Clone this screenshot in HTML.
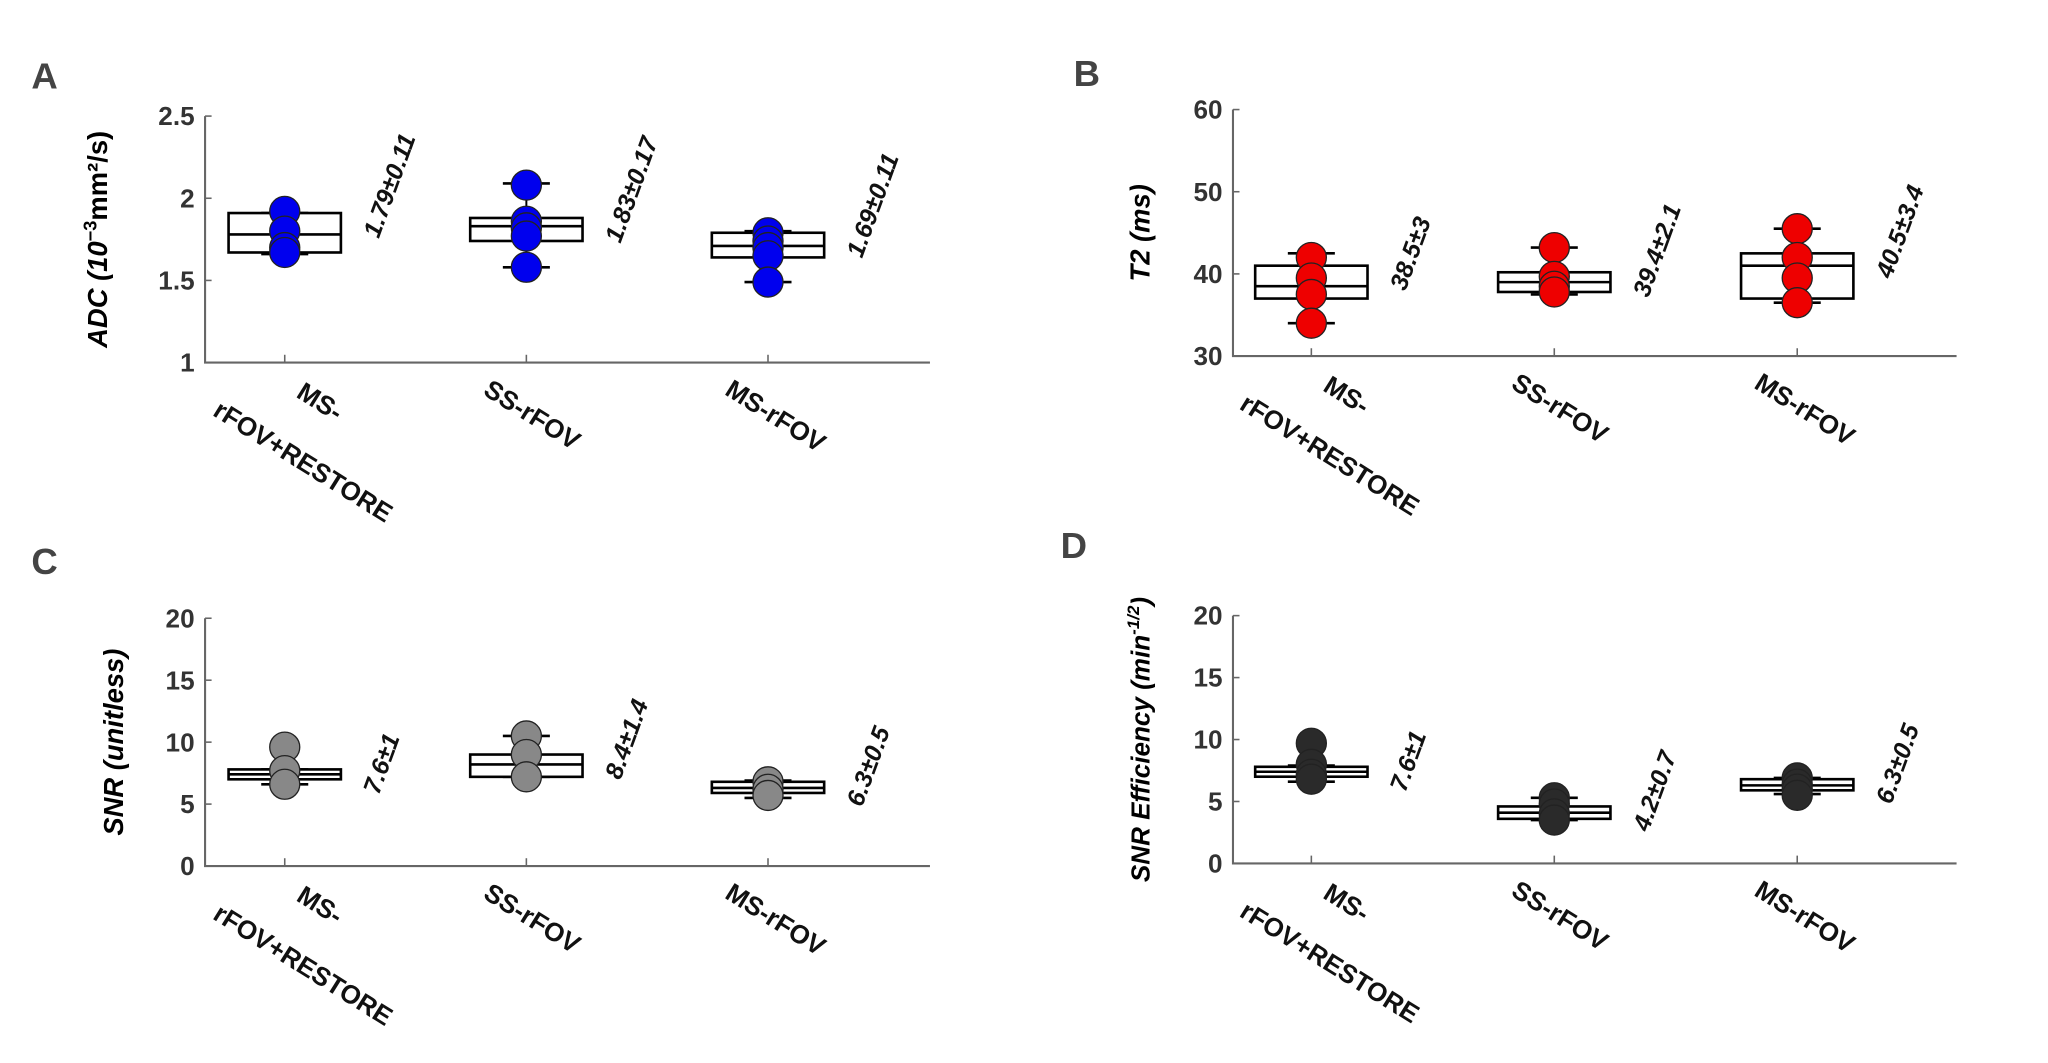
<!DOCTYPE html>
<html><head><meta charset="utf-8"><style>
html,body{margin:0;padding:0;background:#fff;width:2048px;height:1063px;overflow:hidden}
svg text{font-family:"Liberation Sans",sans-serif}
</style></head><body>
<svg id="fig" width="2048" height="1063" viewBox="0 0 1568 815" preserveAspectRatio="none" xmlns="http://www.w3.org/2000/svg"></svg>
<script>
const categories = ["MS-rFOV+RESTORE", "SS-rFOV", "MS-rFOV"];
// Panel A - ADC
const adcPoints = [[1.92,1.80,1.70,1.67],[2.08,1.86,1.82,1.77,1.58],[1.79,1.74,1.70,1.65,1.49]];
const adcBoxes = [[1.66,1.67,1.78,1.91,1.91],[1.58,1.74,1.83,1.88,2.09],[1.49,1.64,1.71,1.79,1.80]];
const adcLabels = ["1.79\u00B10.11","1.83\u00B10.17","1.69\u00B10.11"];
const adcTicks = [1,1.5,2,2.5];
// Panel B - T2
const t2Points = [[42,39.5,37.5,34],[43.2,39.7,38.5,37.8],[45.5,42,39.5,36.5]];
const t2Boxes = [[34,37,38.5,41,42.5],[37.5,37.8,39,40.2,43.2],[36.5,37,41,42.5,45.5]];
const t2Labels = ["38.5\u00B13","39.4\u00B12.1","40.5\u00B13.4"];
const t2Ticks = [30,40,50,60];
// Panel C - SNR
const snrPoints = [[9.6,7.7,6.6],[10.5,9,7.2],[6.8,6.2,5.7]];
const snrBoxes = [[6.6,7,7.4,7.8,7.8],[7.2,7.2,8.2,9,10.5],[5.5,5.9,6.3,6.8,6.9]];
const snrLabels = ["7.6\u00B11","8.4\u00B11.4","6.3\u00B10.5"];
const snrTicks = [0,5,10,15,20];
// Panel D - SNR efficiency
const effPoints = [[9.7,8,7.2,6.8],[5.3,4.8,4,3.5],[6.9,6.4,6,5.5]];
const effBoxes = [[6.6,7,7.4,7.8,7.9],[3.5,3.6,4.1,4.6,5.3],[5.6,5.9,6.3,6.8,6.9]];
const effLabels = ["7.6\u00B11","4.2\u00B10.7","6.3\u00B10.5"];
const effTicks = [0,5,10,15,20];

const NS="http://www.w3.org/2000/svg";
const svg=document.getElementById('fig');
function mk(tag,attrs,parent,text){const e=document.createElementNS(NS,tag);for(const k in attrs)e.setAttribute(k,attrs[k]);if(text!==undefined)e.textContent=text;(parent||svg).appendChild(e);return e;}

function panel(o){
  const g=mk('g',{});
  
  
  const ymin=o.ticks[0], ymax=o.ticks[o.ticks.length-1];
  const y=v=>o.y0-(v-ymin)/(ymax-ymin)*(o.y0-o.y1);
  const xc=i=>o.cx[i];
  const L=mk('text',{x:o.lx,y:o.ly,'font-size':28,'font-weight':'bold',fill:'#444'},g,o.letter);
  
  
  const ax=mk('path',{d:`M${o.x0},${o.y1} V${o.y0} H${o.x1}`,stroke:'#666',fill:'none','stroke-width':1.6},g);
  
  
  o.ticks.forEach(t=>{
    mk('line',{x1:o.x0,x2:o.x0+5,y1:y(t),y2:y(t),stroke:'#666','stroke-width':1.2},g);
    const tl=mk('text',{x:o.x0-8,y:y(t)+7,'font-size':20,'font-weight':'bold',fill:'#333','text-anchor':'end'},g,String(t));
    
    
  });
  categories.forEach((c,i)=>{
    mk('line',{x1:xc(i),x2:xc(i),y1:o.y0,y2:o.y0-6,stroke:'#666','stroke-width':1.2},g);
  });
  const yt=mk('text',{transform:`translate(${o.tx},${(o.y0+o.y1)/2}) rotate(-90)`,'font-size':o.tfs||20,'font-weight':'bold','font-style':'italic','text-anchor':'middle',fill:'#000'},g);
  yt.innerHTML=o.title;
  
  
  o.boxes.forEach((b,i)=>{
    const cx=xc(i),hw=43,ww=18;
    const bg=mk('g',{},g);
    
    
    mk('line',{x1:cx,x2:cx,y1:y(b[0]),y2:y(b[4]),stroke:'#000','stroke-width':1.5},bg);
    mk('line',{x1:cx-ww,x2:cx+ww,y1:y(b[0]),y2:y(b[0]),stroke:'#000','stroke-width':2},bg);
    mk('line',{x1:cx-ww,x2:cx+ww,y1:y(b[4]),y2:y(b[4]),stroke:'#000','stroke-width':2},bg);
    mk('rect',{x:cx-hw,y:y(b[3]),width:2*hw,height:y(b[1])-y(b[3]),fill:'#fff',stroke:'#000','stroke-width':2},bg);
    mk('line',{x1:cx-hw,x2:cx+hw,y1:y(b[2]),y2:y(b[2]),stroke:'#000','stroke-width':2},bg);
  });
  o.points.forEach((ps,i)=>{
    ps.forEach(v=>{
      const p=mk('ellipse',{cx:xc(i),cy:y(v),rx:11.5,ry:11.5,fill:o.color,stroke:'#222','stroke-width':1},g);
      
      
    });
  });
  o.labels.forEach((s,i)=>{
    const top=y(o.boxes[i][3]);
    const t=mk('text',{transform:`translate(${xc(i)+72},${top+20}) rotate(-70)`,'font-size':19,'font-weight':'bold','font-style':'italic',fill:'#111'},g,s);
    
    
  });
  categories.forEach((c,i)=>{
    const cx=xc(i),by=o.y0+22;
    if(i===0){
      const t1=mk('text',{transform:`translate(${cx+8},${by+4}) rotate(32)`,'font-size':20,'font-weight':'bold',fill:'#111'},g,'MS-');
      
      
      const t2=mk('text',{transform:`translate(${cx-56},${by+18}) rotate(32)`,'font-size':20,'font-weight':'bold',fill:'#111'},g,'rFOV+RESTORE');
      
      
    } else {
      const t=mk('text',{transform:`translate(${cx-34},${by+2}) rotate(32)`,'font-size':20,'font-weight':'bold',fill:'#111'},g,c);
      
      
    }
  });
}

panel({id:'adc',letter:'A',lx:24,ly:68,x0:157,x1:712,y0:278,y1:89,cx:[218,403,588],ticks:adcTicks,points:adcPoints,boxes:adcBoxes,labels:adcLabels,color:'#0000ee',tx:82,tfs:21,
  title:'ADC (10<tspan dy="-8" font-size="14" font-style="normal">\u22123</tspan><tspan dy="8" font-style="normal">mm\u00B2/s)</tspan>'});
panel({id:'t2',letter:'B',lx:822,ly:66,x0:944,x1:1498,y0:273,y1:84,cx:[1004,1190,1376],ticks:t2Ticks,points:t2Points,boxes:t2Boxes,labels:t2Labels,color:'#ee0000',tx:880,tfs:21,
  title:'T2 (ms)'});
panel({id:'snr',letter:'C',lx:24,ly:440,x0:157,x1:712,y0:664,y1:474,cx:[218,403,588],ticks:snrTicks,points:snrPoints,boxes:snrBoxes,labels:snrLabels,color:'#888888',tx:94,tfs:21,
  title:'SNR (unitless)'});
panel({id:'snr-eff',letter:'D',lx:812,ly:428,x0:944,x1:1498,y0:662,y1:472,cx:[1004,1190,1376],ticks:effTicks,points:effPoints,boxes:effBoxes,labels:effLabels,color:'#2a2a2a',tx:880,tfs:20,
  title:'SNR Efficiency (min<tspan dy="-8" font-size="13">-1/2</tspan><tspan dy="8">)</tspan>'});
</script>
</body></html>
